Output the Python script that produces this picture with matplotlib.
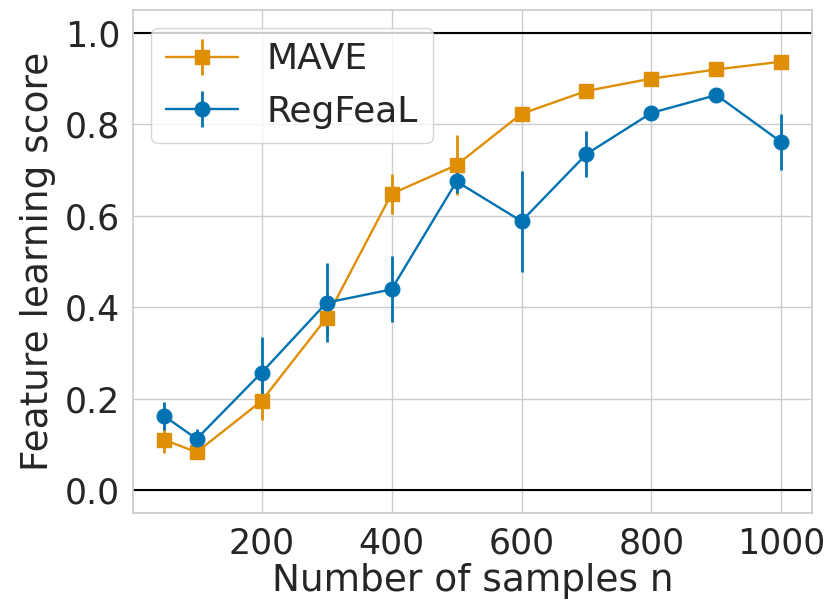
import matplotlib
matplotlib.use("Agg")
import matplotlib.pyplot as plt
import seaborn as sns

sns.set_theme(style="whitegrid")
plt.rcParams['font.family'] = ['DejaVu Sans']

n_samples = [50, 100, 200, 300, 400, 500, 600, 700, 800, 900, 1000]
mave_mean = [0.110, 0.083, 0.195, 0.377, 0.648, 0.711, 0.823, 0.873, 0.900, 0.920, 0.937]
mave_err = [0.028, 0.008, 0.042, 0.040, 0.044, 0.065, 0.012, 0.010, 0.008, 0.008, 0.008]
regfeal_mean = [0.162, 0.112, 0.257, 0.410, 0.439, 0.675, 0.588, 0.735, 0.825, 0.864, 0.761]
regfeal_err = [0.031, 0.022, 0.077, 0.086, 0.072, 0.026, 0.110, 0.050, 0.010, 0.010, 0.062]

orange = "#de8f05"
blue = "#0173b2"

fig = plt.figure(figsize=(8.28, 6.06), dpi=100)
ax = fig.add_axes([0.161, 0.1535, 0.820, 0.830])

ax.errorbar(n_samples, mave_mean, yerr=mave_err, color=orange, marker='s',
            markersize=10.5, linewidth=1.7, elinewidth=2, capsize=0, label='MAVE')
ax.errorbar(n_samples, regfeal_mean, yerr=regfeal_err, color=blue, marker='o',
            markersize=10.5, linewidth=1.7, elinewidth=2, capsize=0, label='RegFeaL')

ax.axhline(0.0, color='black', linewidth=1.5, zorder=1)
ax.axhline(1.0, color='black', linewidth=1.5, zorder=1)

ax.set_ylim(-0.05, 1.05)
ax.set_xticks([200, 400, 600, 800, 1000])
ax.set_yticks([0.0, 0.2, 0.4, 0.6, 0.8, 1.0])
ax.tick_params(axis='both', labelsize=25, colors='#262626')
ax.set_xlabel('Number of samples n', fontsize=27, color='#262626', labelpad=2)
ax.set_ylabel('Feature learning score', fontsize=27, color='#262626', labelpad=6)

ax.legend(loc='upper left', fontsize=26, handlelength=2.0, borderaxespad=0.5)

fig.savefig('out.png', dpi=100)
